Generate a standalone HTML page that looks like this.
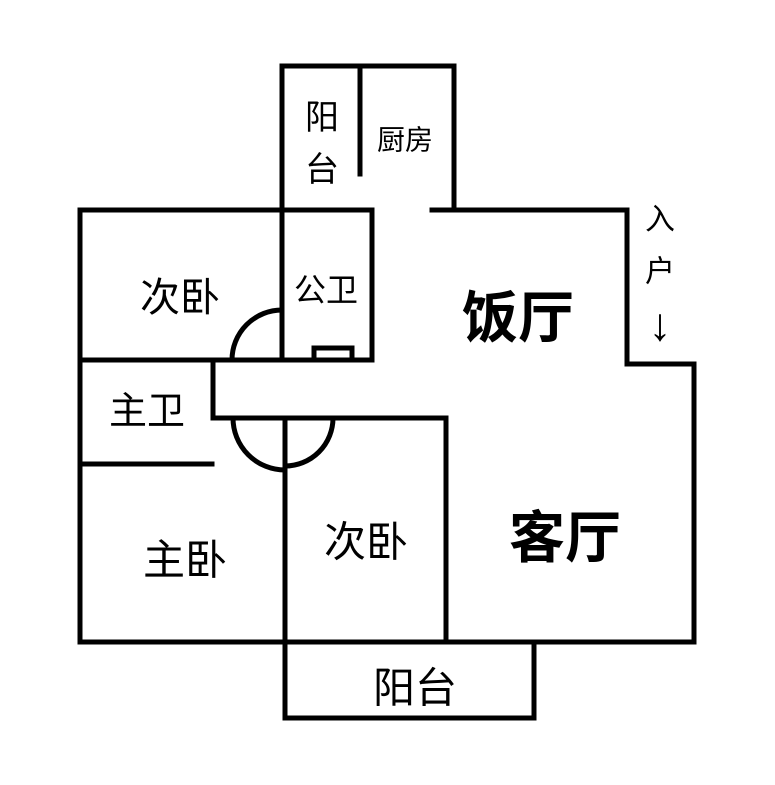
<!DOCTYPE html>
<html><head><meta charset="utf-8"><style>
body{margin:0;background:#fff}
svg text{font-family:"Liberation Sans","Noto Sans CJK SC",sans-serif;fill:#000;text-anchor:middle;dominant-baseline:central}
</style></head><body>
<svg width="775" height="780" viewBox="0 0 775 780" xmlns="http://www.w3.org/2000/svg">
<g stroke="#000" stroke-width="5" fill="none" stroke-linecap="square">
<polyline points="282,360 282,66 454,66 454,210 627,210 627,364 694,364 694,642 80,642 80,210 372,210 372,360"/>
<line x1="432" y1="210" x2="454" y2="210"/>
<line x1="360" y1="66" x2="360" y2="174"/>
<line x1="80" y1="360" x2="372" y2="360"/>
<polyline points="213,360 213,418 446,418 446,642"/>
<line x1="285" y1="418" x2="285" y2="642"/>
<polyline points="285,642 285,718 534,718 534,642"/>
<line x1="80" y1="464" x2="212" y2="464"/>
<rect x="314" y="348" width="38" height="12"/>
<path d="M232,360 A50,50 0 0 1 282,310"/>
<path d="M233,418 A52,52 0 0 0 285,470"/>
<path d="M333,418 A48,48 0 0 1 285,466"/>
</g>
<text x="322" y="118" font-size="34">阳</text>
<text x="322" y="170" font-size="34">台</text>
<text x="405" y="140" font-size="28">厨房</text>
<text x="180" y="298" font-size="40">次卧</text>
<text x="326" y="290" font-size="32">公卫</text>
<text x="518" y="318" font-size="56" font-weight="bold">饭厅</text>
<text x="660" y="220" font-size="30">入</text>
<text x="660" y="272" font-size="30">户</text>
<text x="660" y="324" font-size="46">↓</text>
<text x="147" y="412" font-size="38">主卫</text>
<text x="185" y="560" font-size="42">主卧</text>
<text x="366" y="542" font-size="42">次卧</text>
<text x="565" y="538" font-size="56" font-weight="bold">客厅</text>
<text x="415" y="688" font-size="42">阳台</text>
</svg>
</body></html>
